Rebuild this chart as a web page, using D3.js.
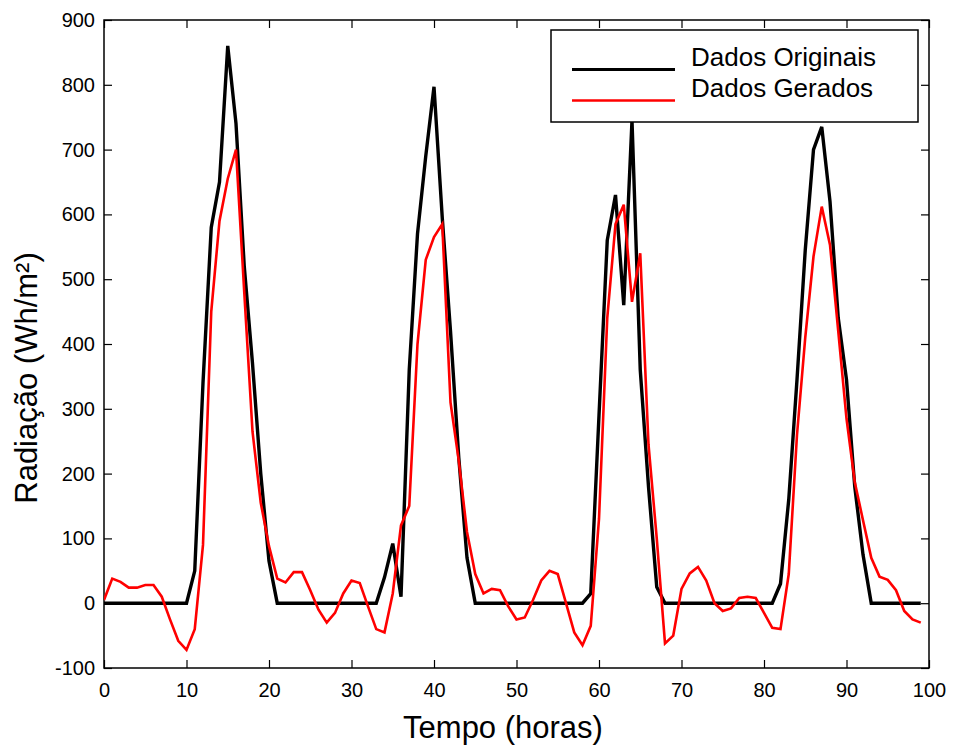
<!DOCTYPE html>
<html>
<head>
<meta charset="utf-8">
<script src="https://cdn.jsdelivr.net/npm/d3@7"></script>
<style>
  html, body { margin: 0; padding: 0; background: #fff; }
  svg { display: block; font-family: "Liberation Sans", Arial, Helvetica, sans-serif; }
</style>
</head>
<body>
<svg id="chart" width="953" height="752"></svg>
<script>
// ---- data ----
const hours = d3.range(0, 100);
const dadosOriginais = [
  0,0,0,0,0,0,0,0,0,0,0,
  50,340,580,650,860,740,520,370,200,65,0,
  0,0,0,0,0,0,0,0,0,0,0,0,
  40,92,10,360,570,690,797,595,420,225,70,
  0,0,0,0,0,0,0,0,0,0,0,0,0,0,
  15,290,560,630,460,745,360,180,25,
  0,0,0,0,0,0,0,0,0,0,0,0,0,0,
  30,160,345,545,700,735,620,440,345,180,75,
  0,0,0,0,0,0,0
];
const dadosGerados = [
  5,38,33,24,24,28,28,10,-25,-58,
  -72,-40,90,450,590,655,700,480,265,155,
  88,38,32,48,48,20,-10,-30,-15,15,
  35,31,-5,-40,-45,15,120,150,400,530,
  565,585,310,220,110,45,15,22,20,-5,
  -25,-22,5,35,50,45,0,-45,-65,-35,
  130,440,585,615,465,540,245,100,-62,-50,
  22,46,56,35,0,-12,-8,8,10,8,
  -15,-38,-40,45,260,410,535,612,553,420,
  285,187,128,70,41,36,20,-12,-25,-30
];
const xTicks = [0,10,20,30,40,50,60,70,80,90,100];
const yTicks = [-100,0,100,200,300,400,500,600,700,800,900];
const seriesNames = ["Dados Originais", "Dados Gerados"];
const seriesColors = ["#000000", "#ff0000"];

// ---- layout ----
const svg = d3.select("#chart");
const L = 104, R = 929, T = 20, B = 668;
const x = d3.scaleLinear().domain([0, 100]).range([L, R]);
const y = d3.scaleLinear().domain([-100, 900]).range([B, T]);
const tick = 8;

// axes box
svg.append("rect").attr("x", L).attr("y", T).attr("width", R - L).attr("height", B - T)
  .attr("fill", "#fff").attr("stroke", "#000").attr("stroke-width", 1.5);

const styleAxis = g => {
  g.select(".domain").remove();
  g.selectAll(".tick line").attr("stroke", "#000").attr("stroke-width", 1.2);
  g.selectAll(".tick text").attr("fill", "#000").attr("font-size", 20)
    .attr("font-family", "'Liberation Sans', Arial, sans-serif");
};
const fmt = d => String(d);

svg.append("g").attr("transform", `translate(0,${B})`)
  .call(d3.axisBottom(x).tickValues(xTicks).tickSize(-tick).tickPadding(15).tickFormat(fmt))
  .call(styleAxis);
svg.append("g").attr("transform", `translate(0,${T})`)
  .call(d3.axisTop(x).tickValues(xTicks).tickSize(-tick).tickFormat(""))
  .call(styleAxis);
svg.append("g").attr("transform", `translate(${L},0)`)
  .call(d3.axisLeft(y).tickValues(yTicks).tickSize(-tick).tickPadding(9).tickFormat(fmt))
  .call(styleAxis);
svg.append("g").attr("transform", `translate(${R},0)`)
  .call(d3.axisRight(y).tickValues(yTicks).tickSize(-tick).tickFormat(""))
  .call(styleAxis);

// lines
const line = d3.line().x((d, i) => x(hours[i])).y(d => y(d));
svg.append("clipPath").attr("id", "plotclip")
  .append("rect").attr("x", L).attr("y", T).attr("width", R - L).attr("height", B - T);
const plot = svg.append("g").attr("clip-path", "url(#plotclip)");
plot.append("path").datum(dadosOriginais).attr("d", line)
  .attr("fill", "none").attr("stroke", seriesColors[0]).attr("stroke-width", 3.4)
  .attr("stroke-linejoin", "miter");
plot.append("path").datum(dadosGerados).attr("d", line)
  .attr("fill", "none").attr("stroke", seriesColors[1]).attr("stroke-width", 2.6)
  .attr("stroke-linejoin", "miter");

// axis labels
svg.append("text").attr("x", 503).attr("y", 738).attr("text-anchor", "middle")
  .attr("font-size", 31).attr("fill", "#000").text("Tempo (horas)");
svg.append("text").attr("transform", "translate(37,378) rotate(-90)").attr("text-anchor", "middle")
  .attr("font-size", 31).attr("fill", "#000").text("Radiação (Wh/m²)");

// legend
const lg = svg.append("g");
lg.append("rect").attr("x", 551).attr("y", 30).attr("width", 367).attr("height", 92)
  .attr("fill", "#fff").attr("stroke", "#000").attr("stroke-width", 1.5);
const rows = [{ ly: 69.5, ty: 65.5 }, { ly: 100.5, ty: 96.5 }];
seriesNames.forEach((name, i) => {
  lg.append("line").attr("x1", 572).attr("x2", 675).attr("y1", rows[i].ly).attr("y2", rows[i].ly)
    .attr("stroke", seriesColors[i]).attr("stroke-width", i === 0 ? 3 : 2.6);
  lg.append("text").attr("x", 691).attr("y", rows[i].ty).attr("font-size", 26)
    .attr("fill", "#000").text(name);
});
</script>
</body>
</html>
